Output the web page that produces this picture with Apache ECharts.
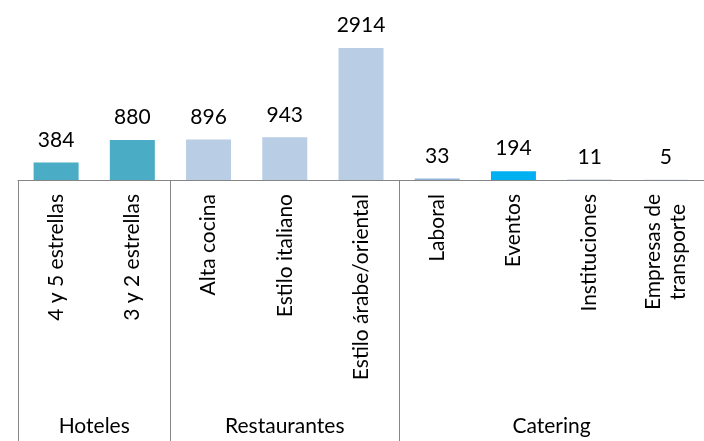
<!DOCTYPE html>
<html>
<head>
<meta charset="utf-8">
<script src="https://cdn.jsdelivr.net/npm/echarts@6/dist/echarts.min.js"></script>
<style>
  html, body { margin: 0; padding: 0; background: #fff; }
  #chart { width: 704px; height: 441px; }
</style>
</head>
<body>
<div id="chart"></div>
<script>
// categories and values
var categories = ['4 y 5 estrellas', '3 y 2 estrellas', 'Alta cocina', 'Estilo italiano',
  'Estilo árabe/oriental', 'Laboral', 'Eventos', 'Instituciones', 'Empresas de\ntransporte'];
var values = [384, 880, 896, 943, 2914, 33, 194, 11, 5];
var barColors = ['#4BACC6', '#4BACC6', '#B9CDE5', '#B9CDE5', '#B9CDE5', '#95B3D7', '#00B0F0', '#B9CDE5', '#B9CDE5'];

// groups: name and number of categories in each
var groupNames = ['Hoteles', 'Restaurantes', 'Catering'];
var groupSizes = [2, 3, 4];

// group axis uses half-category steps (boundaryGap false)
var total = values.length;
var groupData = [];
for (var i = 0; i <= total * 2; i++) groupData.push('');
var sepIdx = [0];
var start = 0;
groupNames.forEach(function (g, k) {
  groupData[start * 2 + groupSizes[k]] = g;
  start += groupSizes[k];
  sepIdx.push(start * 2);
});

var font = 'Lato';
var fs = 21;
var chart = echarts.init(document.getElementById('chart'));

var option = {
  animation: false,
  grid: { left: 18, width: 694, top: 44, bottom: 261, containLabel: false },
  xAxis: [
    {
      type: 'category',
      data: categories,
      axisLine: { lineStyle: { color: '#868686', width: 1 } },
      axisTick: { show: false },
      axisLabel: {
        rotate: 90,
        interval: 0,
        margin: 14,
        color: '#000',
        fontFamily: font,
        fontSize: fs,
        lineHeight: 25,
        formatter: function (v) {
          if (v.indexOf('\n') >= 0) {
            return v.split('\n').map(function (s) { return '{c|' + s + '}'; }).join('\n');
          }
          return v;
        },
        rich: { c: { align: 'center', fontFamily: font, fontSize: fs, lineHeight: 25, color: '#000' } }
      }
    },
    {
      type: 'category',
      position: 'bottom',
      boundaryGap: false,
      data: groupData,
      axisLine: { show: false },
      axisTick: {
        show: true,
        length: 261,
        interval: function (i) { return sepIdx.indexOf(i) >= 0; },
        lineStyle: { color: '#868686', width: 1 }
      },
      axisLabel: {
        interval: function (i, v) { return v !== ''; },
        margin: 236,
        color: '#000',
        fontFamily: font,
        fontSize: fs
      }
    }
  ],
  yAxis: { type: 'value', min: 0, max: 3000, show: false },
  series: [
    {
      type: 'bar',
      xAxisIndex: 0,
      barWidth: 45,
      data: values.map(function (v, i) { return { value: v, itemStyle: { color: barColors[i] } }; }),
      label: {
        show: true,
        position: 'top',
        distance: 12,
        color: '#000',
        fontFamily: font,
        fontSize: fs
      }
    }
  ]
};
chart.setOption(option);
</script>
</body>
</html>
